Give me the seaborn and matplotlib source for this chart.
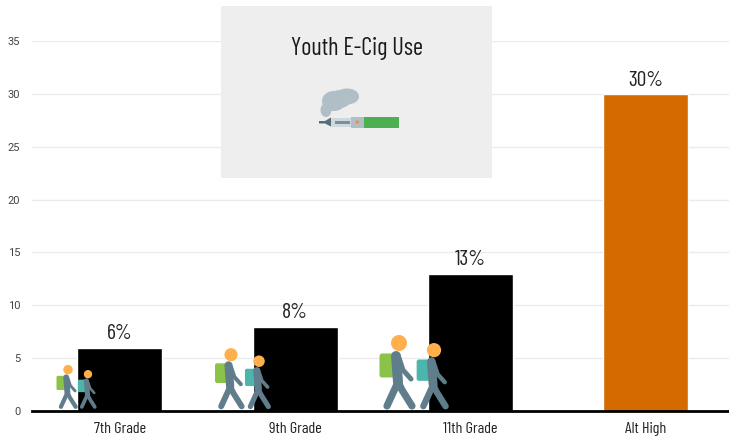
import matplotlib
matplotlib.use('Agg')
import matplotlib.pyplot as plt
from matplotlib.patches import Circle, Ellipse, FancyBboxPatch, Polygon, Rectangle
import pandas as pd
import seaborn as sns

grades = ['7th Grade', '9th Grade', '11th Grade', 'Alt High']
use_pct = [5.95, 7.95, 13.0, 29.95]
bar_labels = ['6%', '8%', '13%', '30%']
bar_colors = ['#000000', '#000000', '#000000', '#d56b00']
y_ticks = [0, 5, 10, 15, 20, 25, 30, 35]

W, H = 729, 438
FONT = ['Barlow Condensed', 'Roboto', 'DejaVu Sans']

sns.set_theme(style='white')
plt.rcParams['font.family'] = FONT


def px(size):
    # pixels to points at dpi 100
    return size * 0.72


def walker(ax, x, scale, pack, base=408):
    # icon of a walking student, drawn in pixel coords
    def pt(dx, dy):
        return x + dx * scale, base + dy * scale

    body = '#607d8b'
    lw = px(10 * scale)
    ax.add_patch(FancyBboxPatch(pt(-17, -52), 10 * scale, 19 * scale,
                                boxstyle=f'round,pad={2.5 * scale}', fc=pack, ec='none', zorder=5))
    for pts, w in [([(-3, -52), (-1, -26)], lw),
                   ([(-1, -26), (-12, -2)], lw * 0.72),
                   ([(-1, -26), (3, -18), (13, -2)], lw * 0.72),
                   ([(0, -50), (4, -38), (12, -29)], lw * 0.5)]:
        xy = [pt(*p) for p in pts]
        ax.plot([p[0] for p in xy], [p[1] for p in xy], color=body, lw=w,
                solid_capstyle='round', solid_joinstyle='round', zorder=6)
    ax.add_patch(Circle(pt(0, -65), 8 * scale, fc='#ffb04c', ec='none', zorder=7))


df = pd.DataFrame({'grade': grades, 'pct': use_pct})

fig = plt.figure(figsize=(W / 100, H / 100), dpi=100)
ax = fig.add_axes([32 / W, 1 - 411 / H, (W - 32) / W, 370 / H])

sns.barplot(data=df, x='grade', y='pct', hue='grade', palette=bar_colors, legend=False,
            width=85 / 175.3, saturation=1, ax=ax, zorder=3)
ax.set_xlim(-0.5, 3.474)
ax.set_ylim(0, 35)
ax.set_yticks(y_ticks)
ax.set_xlabel('')
ax.set_ylabel('')
ax.grid(axis='y', color='#ebebeb', lw=1)
ax.set_axisbelow(True)
sns.despine(ax=ax, left=True, top=True, right=True)
ax.spines['bottom'].set_color('black')
ax.spines['bottom'].set_linewidth(2)
ax.spines['bottom'].set_zorder(4)
ax.tick_params(axis='both', length=0)
ax.tick_params(axis='y', labelsize=8, labelcolor='#444444', pad=8.5)
ax.tick_params(axis='x', labelsize=11.6, labelcolor='#222222', pad=8)
for lab in ax.get_yticklabels():
    lab.set_family(['Roboto', 'DejaVu Sans'])
for i, v in enumerate(use_pct):
    ax.annotate(bar_labels[i], (i, v), xytext=(0, 3.5), textcoords='offset points',
                ha='center', va='bottom', fontsize=15.5, color='#222222')

# overlay in pixel coords for the panel and icons
ov = fig.add_axes([0, 0, 1, 1], zorder=10)
ov.set_xlim(0, W)
ov.set_ylim(H, 0)
ov.axis('off')

ov.add_patch(Rectangle((221, 6), 271, 172, fc='#eeeeee', ec='none'))
ov.text(356.5, 49, 'Youth E-Cig Use', ha='center', va='center', fontsize=17.5, color='#1a1a1a')

# vape icon
for cx, cy, w, h in [(347, 96.5, 24, 16), (334, 101, 24, 20), (326, 110, 11, 14), (340, 99, 22, 18)]:
    ov.add_patch(Ellipse((cx, cy), w, h, fc='#b0bec5', ec='none'))
ov.add_patch(Rectangle((364, 117), 35, 10.5, fc='#4caf50', ec='none'))
ov.add_patch(Rectangle((351, 117), 13, 10.5, fc='#b0bec5', ec='none'))
ov.add_patch(Rectangle((331, 118), 20, 8.5, fc='#cfd8dc', ec='none'))
ov.add_patch(Rectangle((335, 121), 15, 2.5, fc='#78909c', ec='none'))
ov.add_patch(Polygon([(319, 121), (325, 121), (331, 117.5), (331, 126.5), (325, 123.5), (319, 123.5)],
                     fc='#546e7a', ec='none'))
ov.add_patch(Circle((357.3, 122), 1.6, fc='#f28c38', ec='none'))

green = '#8bc34a'
teal = '#4db6ac'
walker(ov, 68, 0.59, green)
walker(ov, 88, 0.52, teal)
walker(ov, 231, 0.82, green)
walker(ov, 259, 0.72, teal)
walker(ov, 399, 1.0, green)
walker(ov, 434, 0.89, teal)

fig.savefig('out.png', dpi=100)
